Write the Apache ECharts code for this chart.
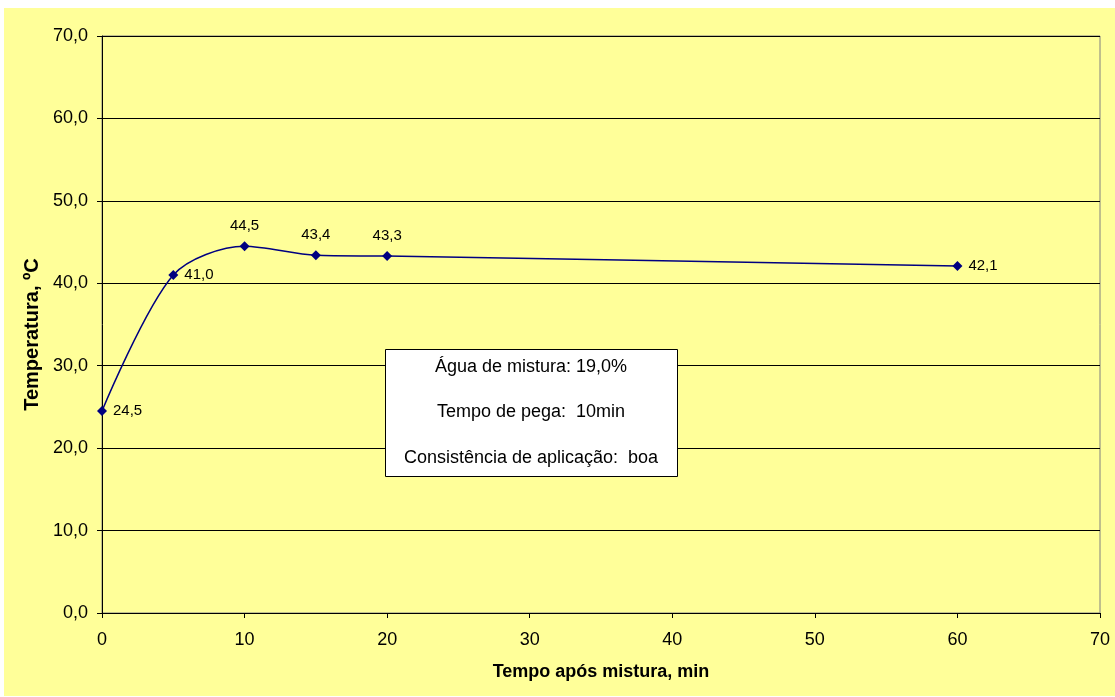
<!DOCTYPE html>
<html>
<head>
<meta charset="utf-8">
<script src="https://cdn.jsdelivr.net/npm/echarts@6/dist/echarts.min.js"></script>
<style>
  html, body { margin: 0; padding: 0; background: #ffffff; }
  #chart { width: 1115px; height: 697px; }
</style>
</head>
<body>
<div id="chart"></div>
<script>
// Tempo após mistura (min) e temperatura medida (ºC)
const tempos = [0, 5, 10, 15, 20, 60];
const temperaturas = [24.5, 41.0, 44.5, 43.4, 43.3, 42.1];
// Lado em que cada rótulo de valor aparece
const posicoesRotulo = ['right', 'right', 'top', 'top', 'top', 'right'];
// Texto da caixa de observações
const notas = [
  'Água de mistura: 19,0%',
  'Tempo de pega:  10min',
  'Consistência de aplicação:  boa'
];

const fmt = v => v.toFixed(1).replace('.', ',');

const chart = echarts.init(document.getElementById('chart'), null, { renderer: 'canvas' });

const dados = tempos.map((t, i) => ({
  value: [t, temperaturas[i]],
  label: { position: posicoesRotulo[i], distance: posicoesRotulo[i] === 'top' ? 8 : 6 }
}));

const font = 'Arial, "Liberation Sans", sans-serif';

chart.setOption({
  animation: false,
  backgroundColor: '#ffffff',
  graphic: [
    {
      type: 'rect', z: -10, silent: true,
      shape: { x: 4, y: 8, width: 1111, height: 688 },
      style: { fill: '#FFFF99' }
    },
    {
      type: 'rect', z: 100, silent: true,
      shape: { x: 385.5, y: 349.5, width: 292, height: 127 },
      style: { fill: '#ffffff', stroke: '#000000', lineWidth: 1 }
    }
  ].concat(notas.map((t, i) => ({
    type: 'text', z: 101, silent: true,
    x: 531, y: 367 + i * 45.5,
    style: {
      text: t, fill: '#000000', font: '18px ' + font,
      textAlign: 'center', textVerticalAlign: 'middle'
    }
  }))),
  grid: { left: 102, top: 36, right: 15, bottom: 84, show: true, borderColor: '#808080', borderWidth: 1, backgroundColor: 'transparent' },
  xAxis: {
    type: 'value', min: 0, max: 70, interval: 10,
    name: 'Tempo após mistura, min',
    nameLocation: 'middle', nameGap: 50,
    nameTextStyle: { fontFamily: font, fontSize: 18, fontWeight: 'bold', color: '#000' },
    axisLine: { show: true, onZero: false, lineStyle: { color: '#000', width: 1 } },
    axisTick: { show: true, length: 5, inside: false, lineStyle: { color: '#000' } },
    axisLabel: { fontFamily: font, fontSize: 18, color: '#000', margin: 18 },
    splitLine: { show: false }
  },
  yAxis: {
    type: 'value', min: 0, max: 70, interval: 10,
    name: 'Temperatura, ºC',
    nameLocation: 'middle', nameGap: 59, nameRotate: 90,
    nameTextStyle: { fontFamily: font, fontSize: 20, fontWeight: 'bold', color: '#000', padding: [0, 20, 0, 0] },
    axisLine: { show: true, onZero: false, lineStyle: { color: '#000', width: 1 } },
    axisTick: { show: true, length: 5, lineStyle: { color: '#000' } },
    axisLabel: { fontFamily: font, fontSize: 18, color: '#000', margin: 14, formatter: fmt },
    splitLine: { show: true, lineStyle: { color: '#000', width: 1 } }
  },
  series: [{
    type: 'line',
    data: dados,
    smooth: 0.3,
    symbol: 'diamond',
    symbolSize: 10,
    itemStyle: { color: '#000080' },
    lineStyle: { color: '#000080', width: 1.5 },
    label: {
      show: true, fontFamily: font, fontSize: 15, color: '#000',
      formatter: p => fmt(p.value[1])
    },
    z: 5
  }]
});
</script>
</body>
</html>
